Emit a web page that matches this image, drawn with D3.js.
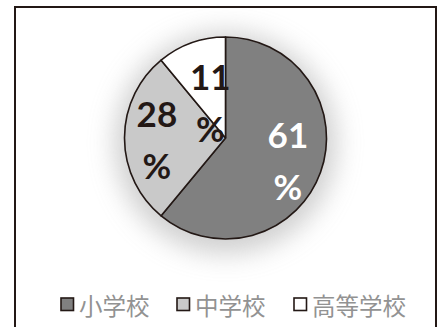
<!DOCTYPE html>
<html>
<head>
<meta charset="utf-8">
<script src="https://cdn.jsdelivr.net/npm/d3@7"></script>
<style>
  html, body { margin: 0; padding: 0; background: #fff; }
  svg { display: block; }
</style>
</head>
<body>
<svg id="chart" width="440" height="327"></svg>
<script>
// School level shares (%)
const categories = ["小学校", "中学校", "高等学校"];
const shares = [61, 28, 11];
const fills = ["#808080", "#c9c9c9", "#ffffff"];
const labelColors = ["#ffffff", "#231815", "#231815"];

const ink = "#231815";
const svg = d3.select("#chart");

// Outer frame (open at the bottom)
svg.append("path")
  .attr("d", "M15,327 V7 H436 V327")
  .attr("fill", "none")
  .attr("stroke", ink)
  .attr("stroke-width", 2);

const cx = 225.5, cy = 138, r = 101;

// Soft shadow under the pie
const defs = svg.append("defs");
defs.append("filter").attr("id", "soft")
  .attr("x", "-50%").attr("y", "-50%").attr("width", "200%").attr("height", "200%")
  .append("feGaussianBlur").attr("stdDeviation", 13);

svg.append("circle")
  .attr("cx", cx).attr("cy", cy + 5).attr("r", r + 10)
  .attr("fill", "#b0b0b0")
  .attr("opacity", 0.6)
  .attr("filter", "url(#soft)");

const pie = d3.pie().sort(null).value(d => d)(shares);
const arc = d3.arc().innerRadius(0).outerRadius(r);

const g = svg.append("g").attr("transform", `translate(${cx},${cy})`);

g.selectAll("path.slice")
  .data(pie)
  .join("path")
  .attr("class", "slice")
  .attr("d", arc)
  .attr("fill", (d, i) => fills[i])
  .attr("stroke", ink)
  .attr("stroke-width", 1.6)
  .attr("stroke-linejoin", "round");

// Two-line value labels: number, then "%"
const labelArc = d3.arc().innerRadius(r * 0.62).outerRadius(r * 0.62);
const labelOffsets = [[3.5, 0], [-6, 0], [6, 22]];

const labels = g.selectAll("text.val")
  .data(pie)
  .join("text")
  .attr("class", "val")
  .attr("text-anchor", "middle")
  .attr("font-family", "Lato, 'Open Sans', sans-serif")
  .attr("font-weight", 700)
  .attr("font-size", 35)
  .attr("fill", (d, i) => labelColors[i])
  .attr("transform", (d, i) => {
    const [x, y] = labelArc.centroid(d);
    return `translate(${x + labelOffsets[i][0]},${y + labelOffsets[i][1]})`;
  });

labels.append("tspan").attr("x", 0).attr("y", -11).text(d => d.data);
labels.append("tspan").attr("x", 0).attr("y", 41).text("%");

// Legend
const legendX = [61, 177, 294];
const legend = svg.append("g");
categories.forEach((c, i) => {
  legend.append("rect")
    .attr("x", legendX[i]).attr("y", 298)
    .attr("width", 12.5).attr("height", 12.5)
    .attr("fill", fills[i])
    .attr("stroke", ink)
    .attr("stroke-width", 1.6);
  legend.append("text")
    .attr("x", legendX[i] + 18).attr("y", 304.5)
    .attr("dominant-baseline", "central")
    .attr("font-family", "'Noto Sans CJK JP', sans-serif")
    .attr("font-size", 23.5)
    .attr("fill", "#929292")
    .text(c);
});
</script>
</body>
</html>
